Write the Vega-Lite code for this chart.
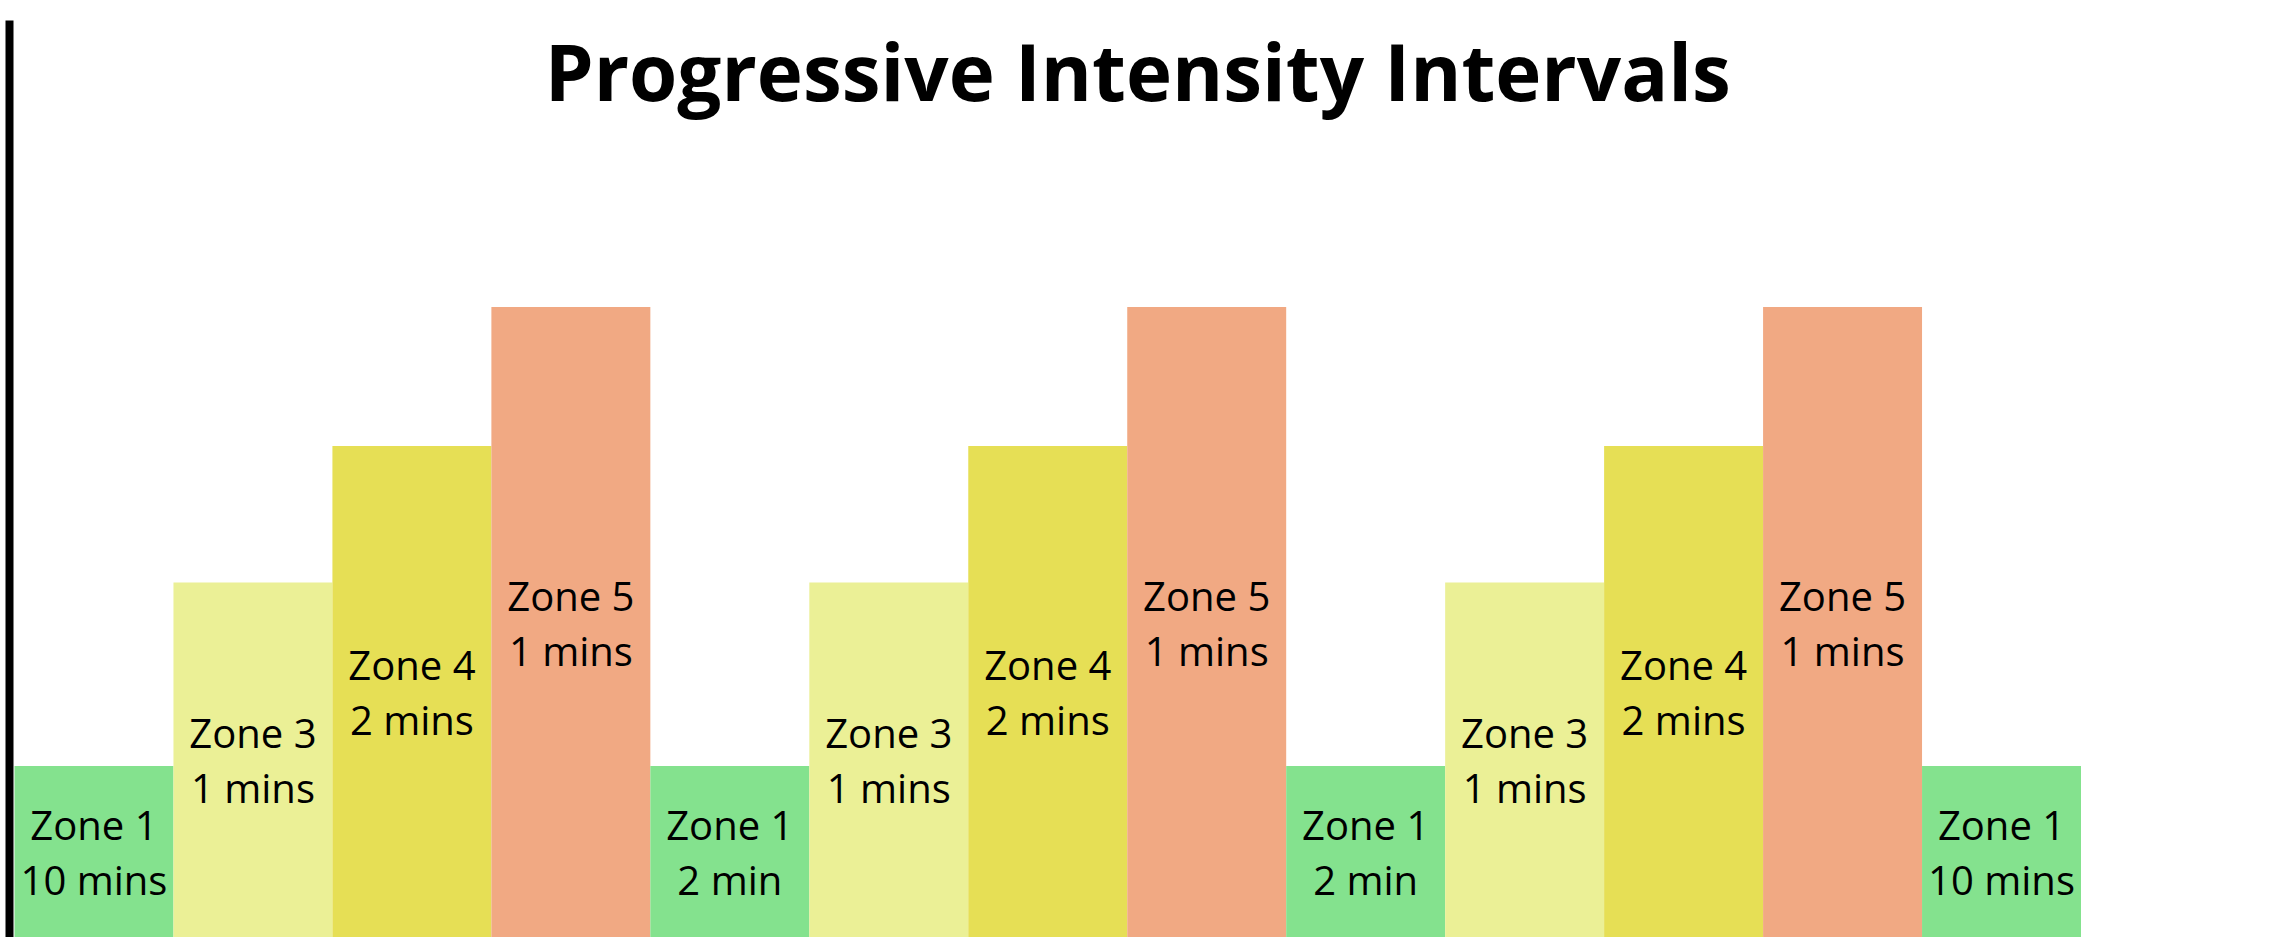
{
  "$schema": "https://vega.github.io/schema/vega-lite/v6.json",
  "autosize": "none",
  "padding": {"left": 14.5, "top": 20, "right": 191, "bottom": 0},
  "width": 2066.5,
  "height": 917,
  "background": "white",
  "config": {"view": {"stroke": null}},
  "encoding": {
    "x": {
      "field": "step",
      "type": "ordinal",
      "scale": {"paddingInner": 0, "paddingOuter": 0},
      "axis": null
    }
  },
  "layer": [
    {
      "data": {"name": "intervals"},
      "mark": {"type": "bar", "strokeWidth": 0},
      "encoding": {
        "y": {
          "field": "intensity",
          "type": "quantitative",
          "scale": {"domain": [0, 100], "nice": false},
          "axis": {
            "title": null,
            "labels": false,
            "ticks": false,
            "grid": false,
            "domain": true,
            "domainColor": "black",
            "domainWidth": 8,
            "domainCap": "butt",
            "offset": 5.5
          }
        },
        "color": {
          "field": "zone",
          "type": "nominal",
          "scale": {
            "domain": ["Zone 1", "Zone 3", "Zone 4", "Zone 5"],
            "range": ["#84e28e", "#ebf096", "#e6df55", "#f1a983"]
          },
          "legend": null
        }
      }
    },
    {
      "data": {"name": "intervals"},
      "mark": {
        "type": "text",
        "font": "Open Sans",
        "fontSize": 40,
        "color": "black",
        "align": "center",
        "baseline": "middle",
        "lineBreak": "\n",
        "lineHeight": 55,
        "dy": -23.5
      },
      "encoding": {
        "y": {
          "field": "intensity",
          "type": "quantitative",
          "scale": {"domain": [0, 200], "nice": false},
          "axis": null
        },
        "text": {"field": "label", "type": "nominal"}
      }
    },
    {
      "data": {"name": "heading"},
      "mark": {
        "type": "text",
        "font": "Open Sans",
        "fontWeight": "bold",
        "fontSize": 78,
        "color": "black",
        "align": "center",
        "baseline": "alphabetic",
        "dx": 90
      },
      "encoding": {
        "x": {"datum": 7, "type": "ordinal"},
        "y": {
          "datum": 91.17,
          "type": "quantitative",
          "scale": {"domain": [0, 100], "nice": false},
          "axis": null
        },
        "text": {"field": "title", "type": "nominal"}
      }
    }
  ],
  "resolve": {"scale": {"y": "independent"}},
  "datasets": {
    "heading": [{"title": "Progressive Intensity Intervals"}],
    "intervals": [
      {"step": 1, "zone": "Zone 1", "duration": "10 mins", "intensity": 18.65, "label": "Zone 1\n10 mins"},
      {"step": 2, "zone": "Zone 3", "duration": "1 mins", "intensity": 38.66, "label": "Zone 3\n1 mins"},
      {"step": 3, "zone": "Zone 4", "duration": "2 mins", "intensity": 53.54, "label": "Zone 4\n2 mins"},
      {"step": 4, "zone": "Zone 5", "duration": "1 mins", "intensity": 68.7, "label": "Zone 5\n1 mins"},
      {"step": 5, "zone": "Zone 1", "duration": "2 min", "intensity": 18.65, "label": "Zone 1\n2 min"},
      {"step": 6, "zone": "Zone 3", "duration": "1 mins", "intensity": 38.66, "label": "Zone 3\n1 mins"},
      {"step": 7, "zone": "Zone 4", "duration": "2 mins", "intensity": 53.54, "label": "Zone 4\n2 mins"},
      {"step": 8, "zone": "Zone 5", "duration": "1 mins", "intensity": 68.7, "label": "Zone 5\n1 mins"},
      {"step": 9, "zone": "Zone 1", "duration": "2 min", "intensity": 18.65, "label": "Zone 1\n2 min"},
      {"step": 10, "zone": "Zone 3", "duration": "1 mins", "intensity": 38.66, "label": "Zone 3\n1 mins"},
      {"step": 11, "zone": "Zone 4", "duration": "2 mins", "intensity": 53.54, "label": "Zone 4\n2 mins"},
      {"step": 12, "zone": "Zone 5", "duration": "1 mins", "intensity": 68.7, "label": "Zone 5\n1 mins"},
      {"step": 13, "zone": "Zone 1", "duration": "10 mins", "intensity": 18.65, "label": "Zone 1\n10 mins"}
    ]
  }
}
